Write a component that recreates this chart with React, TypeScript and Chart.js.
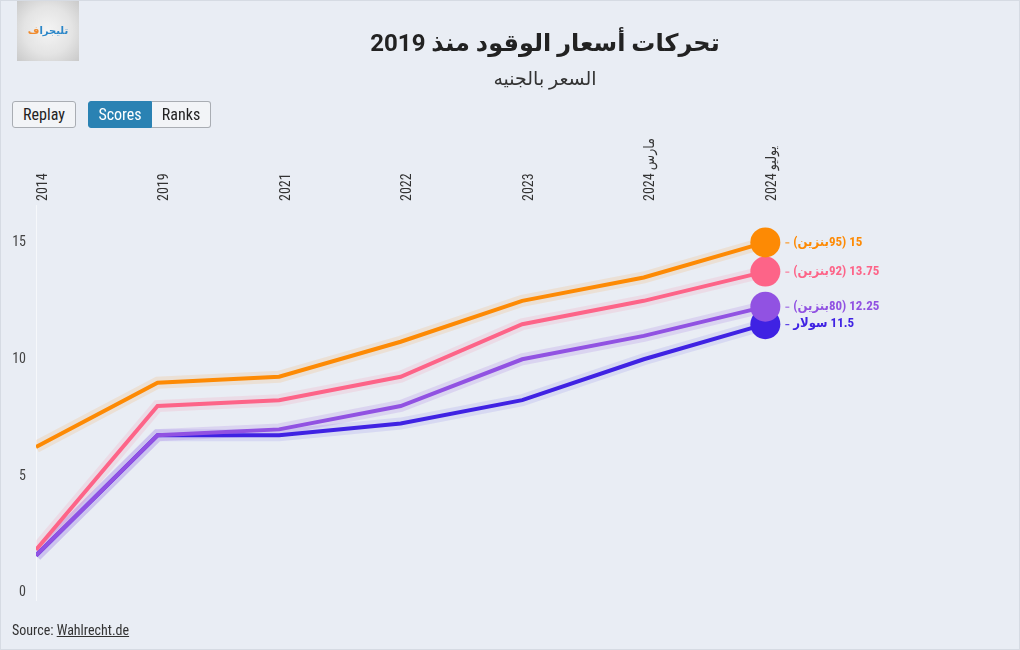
import React, { useEffect, useRef } from "react";
import { Chart, registerables } from "chart.js";

Chart.register(...registerables);

const LABELS = ["2014", "2019", "2021", "2022", "2023", "2024 مارس", "2024 يوليو"];
const PETROL95 = [6.25, 9, 9.25, 10.75, 12.5, 13.5, 15];
const PETROL92 = [1.85, 8, 8.25, 9.25, 11.5, 12.5, 13.75];
const PETROL80 = [1.6, 6.75, 7, 8, 10, 11, 12.25];
const DIESEL = [1.6, 6.75, 6.75, 7.25, 8.25, 10, 11.5];
const Y_TICKS = [0, 5, 10, 15];

const SERIES = [
  { name: "بنزين", num: "95", data: PETROL95, color: "#fd8a04", halo: "rgba(253,138,4,0.13)" },
  { name: "بنزين", num: "92", data: PETROL92, color: "#fd6488", halo: "rgba(253,100,136,0.13)" },
  { name: "بنزين", num: "80", data: PETROL80, color: "#9152e2", halo: "rgba(145,82,226,0.16)" },
  { name: "سولار", num: "", data: DIESEL, color: "#3f22e3", halo: "rgba(90,70,230,0.12)" },
];

const FONT = "'Roboto Condensed','Liberation Sans Narrow','DejaVu Sans Condensed',Roboto,sans-serif";

const drawParts = (ctx: CanvasRenderingContext2D, parts: string[], x: number, y: number) => {
  let cx = x;
  parts.forEach((p) => {
    ctx.fillText(p, cx, y);
    cx += ctx.measureText(p).width;
  });
};

const endLabels = {
  id: "endLabels",
  afterDatasetsDraw(chart: any) {
    const ctx = chart.ctx;
    ctx.save();
    ctx.direction = "ltr";
    ctx.textBaseline = "middle";
    ctx.textAlign = "left";
    SERIES.forEach((s, i) => {
      const meta = chart.getDatasetMeta(i);
      const pt = meta.data[meta.data.length - 1];
      if (!pt) return;
      const val = s.data[s.data.length - 1];
      const x0 = pt.x + 20;
      const y = pt.y;
      ctx.strokeStyle = s.color;
      ctx.lineWidth = 1;
      ctx.beginPath();
      ctx.moveTo(x0, y + 0.5);
      ctx.lineTo(x0 + 4, y + 0.5);
      ctx.stroke();
      ctx.fillStyle = s.color;
      ctx.font = `bold 13px ${FONT}`;
      const parts = s.num
        ? ["(", s.name, s.num, ")", " " + String(val)]
        : [s.name, " " + String(val)];
      drawParts(ctx, parts, x0 + 8, y);
    });
    ctx.restore();
  },
};

const topLabels = {
  id: "topLabels",
  afterDraw(chart: any) {
    const ctx = chart.ctx;
    const xs = chart.scales.x;
    ctx.save();
    ctx.direction = "ltr";
    ctx.fillStyle = "#333";
    ctx.font = `14px ${FONT}`;
    ctx.textAlign = "left";
    ctx.textBaseline = "middle";
    LABELS.forEach((lab, i) => {
      const px = xs.getPixelForValue(i) + 7;
      ctx.save();
      ctx.translate(px, chart.chartArea.top - 4);
      ctx.rotate(-Math.PI / 2);
      const m = lab.split(" ");
      drawParts(ctx, m.length > 1 ? [m[0] + " ", m[1]] : [lab], 0, 0);
      ctx.restore();
    });
    ctx.restore();
  },
};

export default function App() {
  const ref = useRef<HTMLCanvasElement>(null);
  useEffect(() => {
    if (!ref.current) return;
    const main = SERIES.map((s, i) => ({
      data: s.data.map((v, j) => ({ x: j, y: v })),
      borderColor: s.color,
      backgroundColor: s.color,
      borderWidth: 4,
      pointRadius: s.data.map((_, j) => (j === s.data.length - 1 ? 15 : 0)),
      pointBackgroundColor: s.color,
      pointBorderWidth: 0,
      pointHoverRadius: 0,
      tension: 0,
      fill: false,
      order: i,
    }));
    const halos = SERIES.map((s) => ({
      data: s.data.map((v, j) => ({ x: j, y: v })),
      borderColor: s.halo,
      borderWidth: 12,
      pointRadius: 0,
      tension: 0,
      fill: false,
      order: 10,
    }));
    const chart = new Chart(ref.current, {
      type: "line",
      data: { datasets: [...main, ...halos] as any },
      options: {
        animation: false,
        responsive: false,
        layout: { padding: { left: 0, right: 31, top: 130, bottom: 50 } },
        plugins: { legend: { display: false }, tooltip: { enabled: false }, title: { display: false } },
        scales: {
          x: {
            type: "linear",
            position: "top",
            min: 0,
            max: 7.84,
            grid: { display: false, drawTicks: false },
            border: { display: false },
            afterBuildTicks: (scale: any) => {
              scale.ticks = LABELS.map((_, i) => ({ value: i }));
            },
            afterFit: (scale: any) => {
              scale.height = 75;
            },
            ticks: { display: false },
          },
          y: {
            type: "linear",
            min: -0.3,
            max: 16.6,
            grid: { display: false, drawTicks: false },
            border: { display: true, color: "rgba(255,255,255,0.6)", width: 1 },
            afterBuildTicks: (scale: any) => {
              scale.ticks = Y_TICKS.map((v) => ({ value: v }));
            },
            afterFit: (scale: any) => {
              scale.width = 36;
            },
            ticks: {
              padding: 10,
              color: "#444",
              font: { family: FONT, size: 14 },
            },
          },
        },
      },
      plugins: [endLabels, topLabels],
    } as any);
    return () => chart.destroy();
  }, []);

  const btn: React.CSSProperties = {
    position: "absolute",
    top: 100,
    height: 27,
    boxSizing: "border-box",
    border: "1px solid #a9adb3",
    background: "#f2f4f7",
    color: "#222",
    font: `16px ${FONT}`,
    display: "flex",
    alignItems: "center",
    justifyContent: "center",
  };

  return (
    <div
      style={{
        position: "absolute",
        left: 0,
        top: 0,
        width: 1020,
        height: 650,
        boxSizing: "border-box",
        border: "1px solid #d6dbe3",
        background: "#e9edf4",
        overflow: "hidden",
        fontFamily: FONT,
      }}
    >
      <canvas ref={ref} width={1020} height={650} style={{ position: "absolute", left: -1, top: -1 }} />
      <div
        style={{
          position: "absolute",
          left: 16,
          top: -1,
          width: 62,
          height: 61,
          background: "radial-gradient(circle, #f4f4f4 0%, #e4e4e4 55%, #c9c9c9 100%)",
          display: "flex",
          alignItems: "center",
          justifyContent: "center",
          direction: "rtl",
          font: "bold 10px 'DejaVu Sans',sans-serif",
        }}
      >
        <span style={{ color: "#2a86c8" }}>تليجرا</span>
        <span style={{ color: "#f08a2c" }}>ف</span>
      </div>
      <div
        style={{
          position: "absolute",
          left: 544,
          top: 28,
          transform: "translateX(-50%)",
          whiteSpace: "nowrap",
          font: `bold 24px Roboto,'DejaVu Sans',sans-serif`,
          color: "#222",
          direction: "rtl",
        }}
      >
        تحركات أسعار الوقود منذ 2019
      </div>
      <div
        style={{
          position: "absolute",
          left: 544,
          top: 66,
          transform: "translateX(-50%)",
          whiteSpace: "nowrap",
          font: `19px Roboto,'DejaVu Sans',sans-serif`,
          color: "#333",
          direction: "rtl",
        }}
      >
        السعر بالجنيه
      </div>
      <div style={{ ...btn, left: 11, width: 64, borderRadius: 3 }}>Replay</div>
      <div
        style={{
          ...btn,
          left: 87,
          width: 64,
          background: "#2a82b3",
          color: "#fff",
          border: "1px solid #2a82b3",
          borderRadius: "3px 0 0 3px",
        }}
      >
        Scores
      </div>
      <div style={{ ...btn, left: 151, width: 59, borderLeft: "none", borderRadius: "0 3px 3px 0" }}>Ranks</div>
      <div style={{ position: "absolute", left: 11, top: 621, font: `14px ${FONT}`, color: "#333" }}>
        Source: <span style={{ textDecoration: "underline" }}>Wahlrecht.de</span>
      </div>
    </div>
  );
}
